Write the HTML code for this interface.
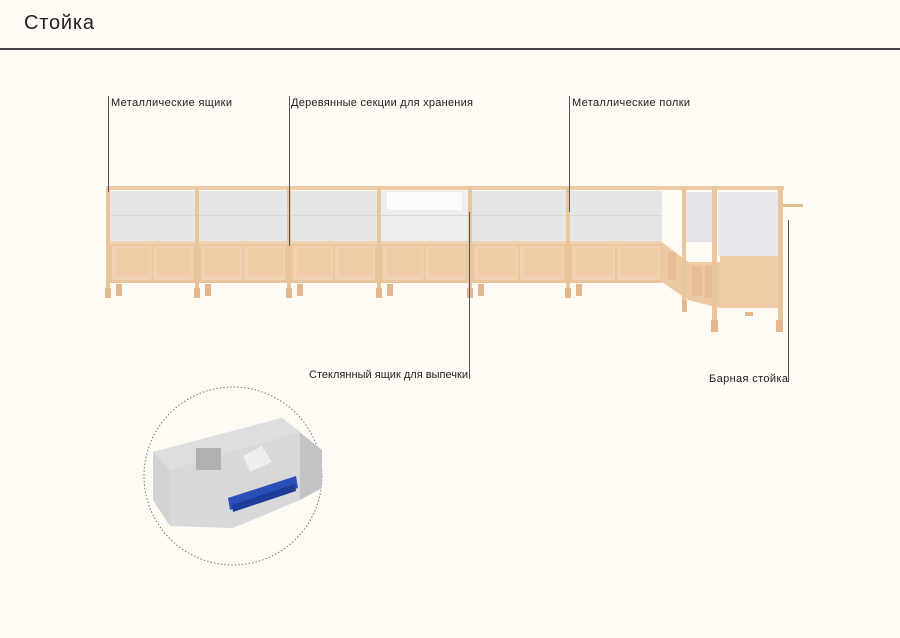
<!DOCTYPE html>
<html><head><meta charset="utf-8"><style>
html,body{margin:0;padding:0;background:#fdfbf4;}
svg{display:block;font-family:"Liberation Sans",sans-serif;}
</style></head><body>
<svg id="s" width="900" height="638" viewBox="0 0 900 638" xmlns="http://www.w3.org/2000/svg">
<rect width="900" height="638" fill="#fdfbf4"/>
<text x="24" y="29" font-size="20" fill="#222" textLength="70">Стойка</text>
<rect x="0" y="48" width="900" height="2" fill="#444"/>

<g id="counter"></g>

<!-- corner / bar section -->
<g>
<polygon points="662,242 688,262 688,300 662,282" fill="#ecc9a2"/>
<polygon points="688,262 720,262 720,308 688,300" fill="#ecc9a2"/>
<rect x="668" y="252" width="8" height="28" fill="#e6be96"/>
<rect x="692" y="266" width="10" height="30" fill="#e6be96"/>
<rect x="705" y="266" width="10" height="32" fill="#e6be96"/>
<rect x="720" y="256" width="58" height="52" fill="#efcca6"/>
<rect x="684" y="192" width="30" height="50" fill="#e3e5e8"/>
<rect x="718" y="192" width="60" height="64" fill="#e6e8eb"/>
<rect x="684" y="186" width="100" height="4" fill="#eccaa4"/>
<rect x="682" y="186" width="4" height="120" fill="#e9c59e"/>
<rect x="712" y="186" width="5" height="144" fill="#e9c59e"/>
<rect x="778" y="186" width="5" height="146" fill="#e9c59e"/>
<rect x="783" y="204" width="20" height="3" fill="#e3bb92"/>
<rect x="682" y="300" width="5" height="12" fill="#e3b88f"/>
<rect x="711" y="320" width="7" height="12" fill="#e3b88f"/>
<rect x="776" y="320" width="7" height="12" fill="#e3b88f"/>
<rect x="745" y="312" width="8" height="4" fill="#e3b88f"/>
</g>

<!-- callouts -->
<g stroke="#555" stroke-width="1">
<line x1="108.5" y1="96" x2="108.5" y2="192"/>
<line x1="289.5" y1="96" x2="289.5" y2="246"/>
<line x1="569.5" y1="96" x2="569.5" y2="212"/>
<line x1="469.5" y1="212" x2="469.5" y2="379"/>
<line x1="788.5" y1="220" x2="788.5" y2="382"/>
</g>
<g font-size="11" fill="#222">
<text x="111" y="106" textLength="121">Металлические ящики</text>
<text x="291" y="106" textLength="182">Деревянные секции для хранения</text>
<text x="572" y="106" textLength="118">Металлические полки</text>
<text x="309" y="378" textLength="159">Стеклянный ящик для выпечки</text>
<text x="709" y="382" textLength="79">Барная стойка</text>
</g>

<!-- inset -->
<circle cx="233" cy="476" r="89" fill="none" stroke="#777" stroke-width="1" stroke-dasharray="1.5,2"/>
<polygon points="153,452 282,418 322,450 322,488 233,528 170,526 153,500" fill="#d2d2d2"/>
<polygon points="153,452 282,418 300,432 170,470" fill="#dedede"/>
<polygon points="282,418 322,450 322,488 300,500 300,432" fill="#c4c4c4"/>
<polygon points="170,470 300,432 300,500 233,528 170,526" fill="#d8d8d8"/>
<rect x="196" y="448" width="25" height="22" fill="#b0b0b0"/>
<polygon points="243,456 262,446 272,462 250,472" fill="#eee"/>
<polygon points="228,498 296,476 298,488 230,510" fill="#2b4fb8"/>
<polygon points="232,505 295,484 296,491 233,512" fill="#1e3c9a"/>
</svg>
<script>
var g=document.getElementById('counter'),ns='http://www.w3.org/2000/svg';
function r(x,y,w,h,f){var e=document.createElementNS(ns,'rect');e.setAttribute('x',x);e.setAttribute('y',y);e.setAttribute('width',w);e.setAttribute('height',h);e.setAttribute('fill',f);g.appendChild(e);}
var P=[106,195,287,377,468,566,662];
r(106,186,578,4,'#eccaa4');
for(var i=0;i<6;i++){var a=P[i]+4,b=P[i+1],w=b-a;
 var glass=(i==3)?'#edeef0':'#e5e6e8';
 r(a,191,w,50,glass);
 if(i==3){r(a+6,192,w-12,18,'#fbfbfb');}
 r(a,215,w,1,'#d6d7d9');
 r(a,241,w,3,'#efd2b0');
 r(a,244,w,38,'#ebc7a0');
 var cw=(w-6)/2;
 for(var k=0;k<2;k++){var cx=a+2+k*(cw+2);r(cx,246,cw,34,'#f1d2b0');r(cx+4,248,cw-6,28,'#efcca6');}
 r(a,280,w,3,'#e9c59e');
 r(a+6,284,6,12,'#e3b88f');
}
for(var j=0;j<6;j++){r(P[j],186,4,112,'#e9c59e');r(P[j]-1,288,6,10,'#e3b88f');}
</script>
</body></html>
